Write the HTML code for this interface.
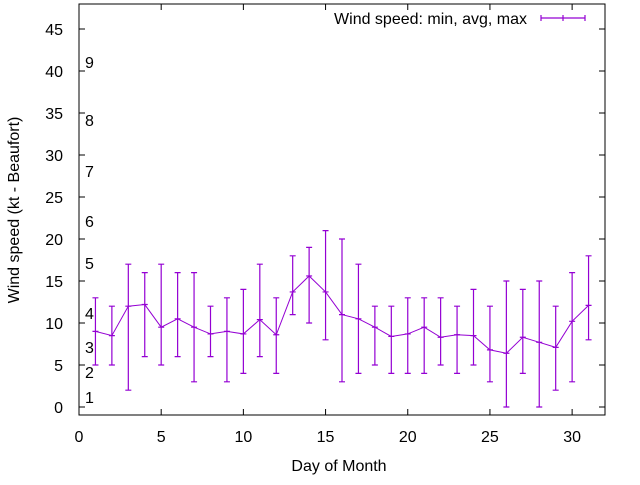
<!DOCTYPE html>
<html><head><meta charset="utf-8"><style>
body{margin:0;background:#fff}
svg text{font-family:"Liberation Sans",sans-serif;font-size:16px;fill:#000}
</style></head><body>
<svg id="c" width="640" height="480" xmlns="http://www.w3.org/2000/svg">
<rect width="640" height="480" fill="#fff"/>
<g id="g"></g>
</svg>
<script>
const days=[1,2,3,4,5,6,7,8,9,10,11,12,13,14,15,16,17,18,19,20,21,22,23,24,25,26,27,28,29,30,31];
const minV=[5,5,2,6,5,6,3,6,3,4,6,4,11,10,8,3,4,5,4,4,4,5,4,5,3,0,4,0,2,3,8];
const avgV=[9,8.5,12,12.2,9.5,10.5,9.5,8.7,9,8.7,10.4,8.6,13.7,15.6,13.7,11,10.5,9.5,8.4,8.7,9.5,8.3,8.6,8.5,6.8,6.4,8.3,7.7,7.1,10.2,12.1];
const maxV=[13,12,17,16,17,16,16,12,13,14,17,13,18,19,21,20,17,12,12,13,13,13,12,14,12,15,14,15,12,16,18];
const xTicks=[0,5,10,15,20,25,30];
const yTicks=[0,5,10,15,20,25,30,35,40,45];
const beaufort=[["1",397],["2",372],["3",347],["4",313],["5",263],["6",221],["7",171],["8",120],["9",62]];
const L=79,R=605,T=4,B=415;
const X=v=>L+v*(R-L)/32;
const Y=v=>407-v*8.4;
const g=document.getElementById('g');
const NS='http://www.w3.org/2000/svg';
function mk(t,a,txt){const e=document.createElementNS(NS,t);for(const k in a)e.setAttribute(k,a[k]);if(txt!==undefined)e.textContent=txt;g.appendChild(e);return e;}
const col='#9400d3';
let e=mk('rect',{x:L,y:T,width:R-L,height:B-T,fill:'none',stroke:'#000','stroke-width':1});


xTicks.forEach(t=>{
  let a=mk('path',{d:`M${X(t)},${B}v-6M${X(t)},${T}v6`,stroke:'#000'});
  
  
  let l=mk('text',{x:X(t),y:442,'text-anchor':'middle'},t);
  
  
});
yTicks.forEach(t=>{
  let a=mk('path',{d:`M${L},${Y(t)}h6M${R},${Y(t)}h-6`,stroke:'#000'});
  
  
  let l=mk('text',{x:63,y:Y(t)+6,'text-anchor':'end'},t);
  
  
});
beaufort.forEach(b=>{
  let l=mk('text',{x:85,y:b[1]+6},b[0]);
  
  
});
let pts=days.map((d,i)=>X(d)+','+Y(avgV[i])).join(' ');
let pl=mk('polyline',{points:pts,fill:'none',stroke:col,'stroke-width':1});


days.forEach((d,i)=>{
  const x=X(d);
  let p=mk('path',{d:`M${x},${Y(minV[i])}V${Y(maxV[i])}M${x-3},${Y(minV[i])}h6M${x-3},${Y(maxV[i])}h6M${x-3},${Y(avgV[i])}h6`,stroke:col,'stroke-width':1.2,fill:'none'});
  
  
});
let lt=mk('text',{x:527,y:24,'text-anchor':'end'},'Wind speed: min, avg, max');


let ls=mk('path',{d:'M541,18h44M541,15v6M585,15v6M563,15v6',stroke:col,'stroke-width':1.2});


let xt=mk('text',{x:339,y:471,'text-anchor':'middle'},'Day of Month');


let yt=mk('text',{x:19,y:210,'text-anchor':'middle',transform:'rotate(-90 19 210)'},'Wind speed (kt - Beaufort)');


</script>
</body></html>
